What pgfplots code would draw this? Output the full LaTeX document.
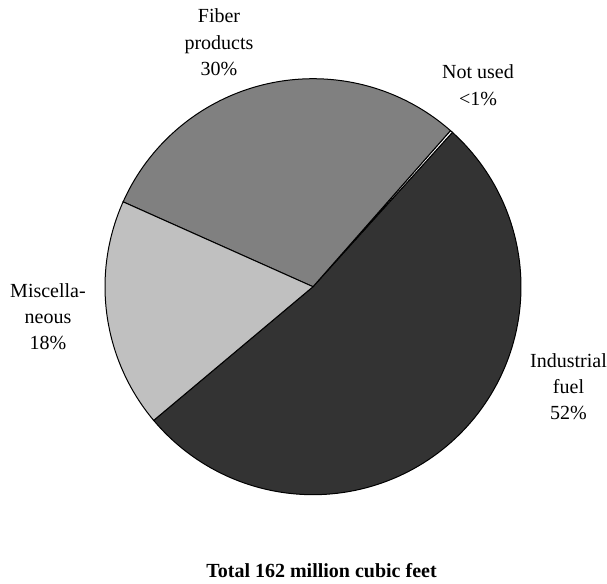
\documentclass[border=0pt]{standalone}
\usepackage{fontspec}
\setmainfont{Liberation Serif}
\usepackage{pgfplots}
\usepackage{pgfplotstable}
\pgfplotsset{compat=1.18}
\definecolor{cInd}{HTML}{333333}
\definecolor{cFib}{HTML}{808080}
\definecolor{cMis}{HTML}{C0C0C0}
\definecolor{cNot}{HTML}{FFFFFF}

\pgfplotstableread{
label pct
Industrial 52.2
Notused 0.2
Fiber 29.8
Misc 17.8
}\piedata
\pgfplotstablegetelem{0}{pct}\of\piedata \let\pA\pgfplotsretval
\pgfplotstablegetelem{1}{pct}\of\piedata \let\pB\pgfplotsretval
\pgfplotstablegetelem{2}{pct}\of\piedata \let\pC\pgfplotsretval
\pgfplotstablegetelem{3}{pct}\of\piedata \let\pD\pgfplotsretval
\pgfmathsetmacro{\aO}{-140}
\pgfmathsetmacro{\aA}{\aO+3.6*\pA}
\pgfmathsetmacro{\aB}{\aA+3.6*\pB}
\pgfmathsetmacro{\aC}{\aB+3.6*\pC}
\pgfmathsetmacro{\aD}{\aC+3.6*\pD}
\def\cx{313}
\def\cy{286.7}
\def\rr{208}

\begin{document}%
\begin{tikzpicture}[lbl/.style={anchor=base, inner sep=0pt, font=\fontsize{20bp}{24bp}\selectfont}]
\begin{axis}[
  width=607bp, height=584bp, scale only axis,
  xmin=0, xmax=607, ymin=0, ymax=584, y dir=reverse,
  hide axis, clip=false,
]
\addplot[draw=none, forget plot] coordinates {(0,0) (607,584)};
\addplot[fill=cInd, draw=black, line width=1bp, domain=\aO:\aA, samples=120]
  ({\cx+\rr*cos(x)}, {\cy-\rr*sin(x)}) -- (axis cs:\cx,\cy) -- cycle;
\addplot[fill=cNot, draw=black, line width=1bp, domain=\aA:\aB, samples=3]
  ({\cx+\rr*cos(x)}, {\cy-\rr*sin(x)}) -- (axis cs:\cx,\cy) -- cycle;
\addplot[fill=cFib, draw=black, line width=1bp, domain=\aB:\aC, samples=80]
  ({\cx+\rr*cos(x)}, {\cy-\rr*sin(x)}) -- (axis cs:\cx,\cy) -- cycle;
\addplot[fill=cMis, draw=black, line width=1bp, domain=\aC:\aD, samples=60]
  ({\cx+\rr*cos(x)}, {\cy-\rr*sin(x)}) -- (axis cs:\cx,\cy) -- cycle;

\node[lbl] at (axis cs:219,23) {Fiber};
\node[lbl] at (axis cs:219,49.5) {products};
\node[lbl] at (axis cs:219,76) {30\%};
\node[lbl] at (axis cs:478,78.5) {Not used};
\node[lbl] at (axis cs:478,105) {<1\%};
\node[lbl] at (axis cs:48,297) {Miscella-};
\node[lbl] at (axis cs:48,323) {neous};
\node[lbl] at (axis cs:48,349) {18\%};
\node[lbl] at (axis cs:568.5,367) {Industrial};
\node[lbl] at (axis cs:568.5,393) {fuel};
\node[lbl] at (axis cs:568.5,419) {52\%};
\node[lbl, font=\fontsize{20bp}{24bp}\selectfont\bfseries] at (axis cs:321.5,577) {Total 162 million cubic feet};
\end{axis}
\end{tikzpicture}%
\end{document}
